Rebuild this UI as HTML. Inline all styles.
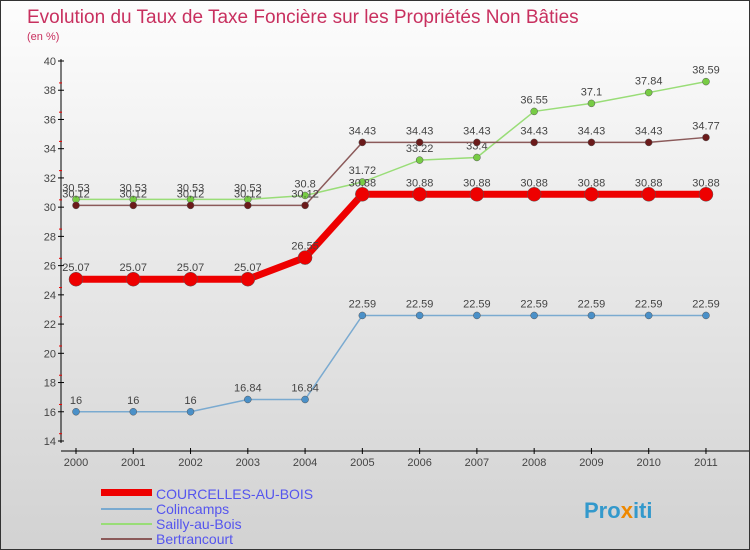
<!DOCTYPE html>
<html><head><meta charset="utf-8"><style>
body{margin:0}
#c{width:750px;height:550px;position:relative;box-sizing:border-box;border:1px solid #333;background:linear-gradient(#fdfdfd,#d2d2d2);font-family:"Liberation Sans",sans-serif;overflow:hidden}
</style></head><body>
<div id="c">
<svg id="s" width="750" height="550" style="position:absolute;left:0;top:0">
<text x="26" y="22" font-size="19" fill="#c8305f">Evolution du Taux de Taxe Foncière sur les Propriétés Non Bâties</text>
<text x="26" y="39" font-size="11" fill="#c8305f">(en %)</text>
<g id="axes"></g><g id="series"></g>
<g>
<rect x="100" y="488" width="51" height="7" fill="#e00"/>
<text x="155" y="498" font-size="14" fill="#5555ee">COURCELLES-AU-BOIS</text>
<rect x="100" y="507" width="51" height="2" fill="#7aaad0"/>
<text x="155" y="513" font-size="14" fill="#5555ee">Colincamps</text>
<rect x="100" y="522" width="51" height="2" fill="#99dd77"/>
<text x="155" y="528" font-size="14" fill="#5555ee">Sailly-au-Bois</text>
<rect x="100" y="537" width="51" height="2" fill="#8b5a5a"/>
<text x="155" y="543" font-size="14" fill="#5555ee">Bertrancourt</text>
</g>
<text x="583" y="517" font-size="22" font-weight="bold" fill="#3399cc">Pro<tspan fill="#ee8800">x</tspan>iti</text>
</svg>
</div>
<script>
const years=["2000","2001","2002","2003","2004","2005","2006","2007","2008","2009","2010","2011"];
const yTicks=[14,16,18,20,22,24,26,28,30,32,34,36,38,40];
const courcelles=[25.07,25.07,25.07,25.07,26.55,30.88,30.88,30.88,30.88,30.88,30.88,30.88];
const colincamps=[16,16,16,16.84,16.84,22.59,22.59,22.59,22.59,22.59,22.59,22.59];
const sailly=[30.53,30.53,30.53,30.53,30.8,31.72,33.22,33.4,36.55,37.1,37.84,38.59];
const bertrancourt=[30.12,30.12,30.12,30.12,30.12,34.43,34.43,34.43,34.43,34.43,34.43,34.77];
const NS="http://www.w3.org/2000/svg";
function xS(i){return 75+i*57.27;}
function yS(v){return 60+(40-v)*(380/26);}
function mk(t,a,p){const e=document.createElementNS(NS,t);for(const k in a)e.setAttribute(k,a[k]);p.appendChild(e);return e;}
const ax=document.getElementById('axes'),se=document.getElementById('series');
let e=mk('line',{x1:60,y1:58,x2:60,y2:442,stroke:'#000'},ax);


e=mk('line',{x1:60,y1:450,x2:748,y2:450,stroke:'#000'},ax);


yTicks.forEach(v=>{const y=yS(v);
mk('line',{x1:57,y1:y,x2:63,y2:y,stroke:'#000'},ax);
if(v<40)mk('line',{x1:58,y1:y-7.3,x2:61,y2:y-7.3,stroke:'#e00'},ax);
const t=mk('text',{x:55,y:y+4,'font-size':11,fill:'#444','text-anchor':'end'},ax);t.textContent=v;

});
years.forEach((yr,i)=>{const x=xS(i);
mk('line',{x1:x,y1:447,x2:x,y2:453,stroke:'#000'},ax);
const t=mk('text',{x:x,y:465,'font-size':11,fill:'#444','text-anchor':'middle'},ax);t.textContent=yr;

});
function draw(d,col,w,r,name,dot,lab){
const g=mk('g',{},se);


const p=mk('polyline',{points:d.map((v,i)=>xS(i)+','+yS(v)).join(' '),fill:'none',stroke:col,'stroke-width':w},g);


d.forEach((v,i)=>{const c=mk('circle',{cx:xS(i),cy:yS(v),r:r,fill:dot,stroke:'#555','stroke-width':0.5},g);


const t=mk('text',{x:xS(i),y:yS(v)-8,'font-size':11,fill:lab,'text-anchor':'middle'},g);t.textContent=v;

});}
draw(colincamps,'#7aaad0',1.5,3.5,'colincamps','#4a90c8','#444');
draw(sailly,'#99dd77',1.5,3.5,'sailly','#77cc44','#444');
draw(bertrancourt,'#8b5a5a',1.5,3.5,'bertrancourt','#6b1a1a','#444');
draw(courcelles,'#ee0000',7,7,'courcelles','#ee0000','#444');
</script>
</body></html>
